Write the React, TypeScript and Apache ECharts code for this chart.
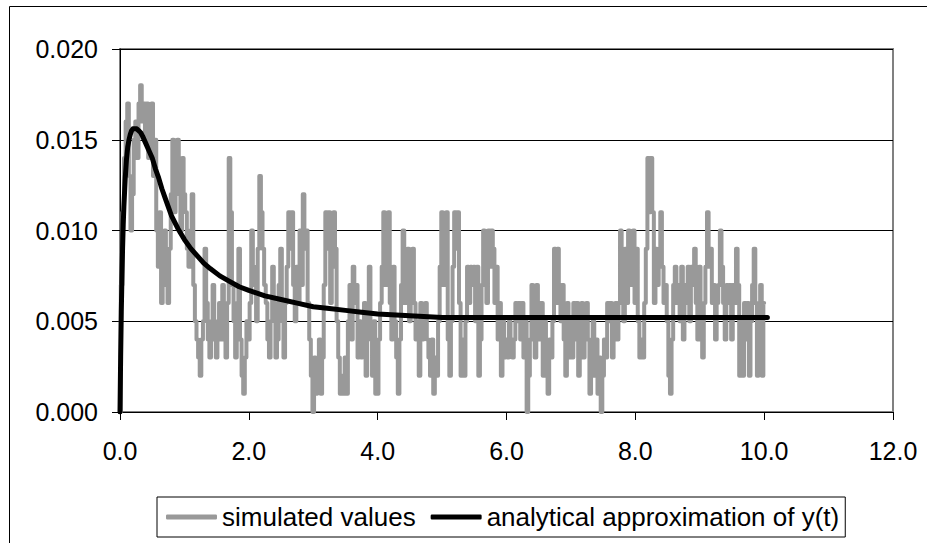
import React, { useEffect, useRef } from "react";
import * as echarts from "echarts";

// sampling step of the simulated series (time units)
const simStep = 0.025;
// simulated values
const simValues = [
  0.000, 0.007, 0.011, 0.014, 0.016, 0.017, 0.013, 0.010, 0.012, 0.015,
  0.016, 0.014, 0.017, 0.018, 0.016, 0.017, 0.015, 0.017, 0.014, 0.016,
  0.017, 0.013, 0.015, 0.010, 0.008, 0.011, 0.006, 0.008, 0.010, 0.007,
  0.006, 0.009, 0.012, 0.015, 0.011, 0.013, 0.015, 0.012, 0.010, 0.014,
  0.012, 0.011, 0.009, 0.008, 0.010, 0.012, 0.007, 0.005, 0.004, 0.003,
  0.002, 0.004, 0.005, 0.009, 0.006, 0.004, 0.003, 0.005, 0.007, 0.004,
  0.003, 0.005, 0.006, 0.004, 0.007, 0.005, 0.003, 0.006, 0.014, 0.011,
  0.007, 0.005, 0.003, 0.006, 0.009, 0.004, 0.002, 0.001, 0.003, 0.005,
  0.004, 0.006, 0.010, 0.008, 0.007, 0.005, 0.009, 0.013, 0.011, 0.009,
  0.007, 0.006, 0.004, 0.003, 0.005, 0.008, 0.006, 0.003, 0.004, 0.007,
  0.009, 0.005, 0.003, 0.006, 0.008, 0.011, 0.009, 0.011, 0.007, 0.005,
  0.008, 0.006, 0.010, 0.007, 0.012, 0.009, 0.010, 0.006, 0.004, 0.002,
  0.000, 0.003, 0.001, 0.002, 0.004, 0.001, 0.003, 0.007, 0.011, 0.009,
  0.011, 0.006, 0.008, 0.011, 0.009, 0.005, 0.003, 0.001, 0.002, 0.001,
  0.003, 0.001, 0.005, 0.007, 0.004, 0.008, 0.006, 0.007, 0.003, 0.005,
  0.003, 0.004, 0.006, 0.002, 0.005, 0.008, 0.004, 0.002, 0.005, 0.001,
  0.001, 0.004, 0.006, 0.008, 0.011, 0.007, 0.009, 0.011, 0.006, 0.004,
  0.008, 0.005, 0.003, 0.001, 0.004, 0.007, 0.010, 0.006, 0.008, 0.009,
  0.005, 0.007, 0.009, 0.006, 0.004, 0.005, 0.002, 0.006, 0.004, 0.005,
  0.006, 0.004, 0.003, 0.002, 0.004, 0.001, 0.003, 0.002, 0.005, 0.008,
  0.011, 0.007, 0.009, 0.011, 0.004, 0.002, 0.005, 0.008, 0.011, 0.009,
  0.011, 0.006, 0.002, 0.004, 0.002, 0.005, 0.008, 0.006, 0.008, 0.007,
  0.008, 0.005, 0.008, 0.002, 0.004, 0.007, 0.010, 0.009, 0.006, 0.010,
  0.008, 0.010, 0.009, 0.006, 0.008, 0.004, 0.006, 0.002, 0.005, 0.003,
  0.004, 0.003, 0.005, 0.004, 0.003, 0.004, 0.006, 0.005, 0.006, 0.004,
  0.006, 0.003, 0.005, 0.000, 0.002, 0.004, 0.007, 0.005, 0.003, 0.007,
  0.006, 0.004, 0.006, 0.002, 0.005, 0.003, 0.001, 0.004, 0.003, 0.005,
  0.009, 0.006, 0.009, 0.007, 0.005, 0.007, 0.004, 0.002, 0.006, 0.003,
  0.005, 0.003, 0.006, 0.004, 0.006, 0.002, 0.005, 0.006, 0.003, 0.005,
  0.006, 0.004, 0.001, 0.003, 0.005, 0.002, 0.004, 0.001, 0.003, 0.000,
  0.002, 0.004, 0.003, 0.006, 0.005, 0.006, 0.003, 0.005, 0.006, 0.004,
  0.006, 0.010, 0.007, 0.005, 0.009, 0.006, 0.010, 0.007, 0.009, 0.010,
  0.006, 0.009, 0.005, 0.003, 0.004, 0.003, 0.006, 0.009, 0.014, 0.011,
  0.014, 0.011, 0.006, 0.009, 0.007, 0.009, 0.011, 0.008, 0.006, 0.007,
  0.005, 0.002, 0.001, 0.004, 0.007, 0.008, 0.006, 0.007, 0.005, 0.008,
  0.004, 0.007, 0.006, 0.008, 0.005, 0.008, 0.007, 0.009, 0.006, 0.004,
  0.008, 0.004, 0.003, 0.006, 0.008, 0.011, 0.008, 0.009, 0.006, 0.007,
  0.004, 0.006, 0.007, 0.010, 0.008, 0.006, 0.004, 0.007, 0.006, 0.007,
  0.004, 0.007, 0.006, 0.009, 0.007, 0.002, 0.005, 0.002, 0.006, 0.004,
  0.006, 0.002, 0.005, 0.007, 0.009, 0.006, 0.002, 0.005, 0.007, 0.002,
  0.006,
];

// analytical approximation of y(t)
const approxT = [
  0, 0.01, 0.02, 0.03, 0.04, 0.05, 0.06, 0.08, 0.1, 0.12, 0.14, 0.16, 0.18,
  0.2, 0.23, 0.26, 0.29, 0.32, 0.35, 0.4, 0.45, 0.5, 0.55, 0.6, 0.65, 0.7,
  0.75, 0.8, 0.9, 1.0, 1.1, 1.2, 1.3, 1.4, 1.55, 1.7, 1.85, 2.0, 2.25, 2.5,
  2.75, 3.0, 3.25, 3.5, 3.75, 4.0, 4.5, 5.0, 6.0, 7.0, 8.0, 9.0, 10.05,
];
const approxY = [
  0, 0.003, 0.0055, 0.0074, 0.009, 0.0103, 0.0113, 0.0128, 0.0139, 0.0146,
  0.015, 0.0153, 0.0155, 0.0156, 0.0156, 0.0156, 0.0155, 0.0154, 0.0152,
  0.0148, 0.0144, 0.014, 0.0134, 0.0129, 0.0123, 0.0118, 0.0113, 0.0108,
  0.0101, 0.0095, 0.009, 0.0086, 0.0082, 0.0079, 0.0075, 0.0072, 0.0069,
  0.0067, 0.0064, 0.0062, 0.006, 0.0058, 0.0057, 0.0056, 0.0055, 0.0054,
  0.0053, 0.0052, 0.0052, 0.0052, 0.0052, 0.0052, 0.0052,
];

const seriesNames = ["simulated values", "analytical approximation of y(t)"];
const xTicks = { min: 0, max: 12, interval: 2 };
const yTicks = { min: 0, max: 0.02, interval: 0.005 };

const FONT = "'Liberation Sans', Arial, Helvetica, sans-serif";

export default function App() {
  const ref = useRef<HTMLDivElement>(null);

  useEffect(() => {
    document.body.style.margin = "0";
    if (!ref.current) return;
    const chart = echarts.init(ref.current, undefined, { renderer: "svg" });

    const simData = simValues.map((v, i) => [i * simStep, v]);
    const approxData = approxT.map((t, i) => [t, approxY[i]]);

    chart.setOption({
      animation: false,
      backgroundColor: "#ffffff",
      textStyle: { fontFamily: FONT },
      grid: {
        left: 120,
        top: 49,
        right: 34,
        bottom: 131,
        show: true,
        borderColor: "#808080",
        borderWidth: 2,
        backgroundColor: "transparent",
        outerBoundsMode: "none",
      },
      xAxis: {
        type: "value",
        min: xTicks.min,
        max: xTicks.max,
        interval: xTicks.interval,
        axisLine: { show: true, onZero: false, lineStyle: { color: "#000", width: 1 } },
        axisTick: { show: true, inside: false, length: 8, lineStyle: { color: "#000" } },
        axisLabel: {
          margin: 26,
          fontSize: 25,
          color: "#000",
          fontFamily: FONT,
          formatter: (v: number) => v.toFixed(1),
        },
        splitLine: { show: false },
      },
      yAxis: {
        type: "value",
        min: yTicks.min,
        max: yTicks.max,
        interval: yTicks.interval,
        axisLine: { show: true, onZero: false, lineStyle: { color: "#000", width: 1 } },
        axisTick: { show: true, inside: false, length: 8, lineStyle: { color: "#000" } },
        axisLabel: {
          margin: 22,
          fontSize: 25,
          color: "#000",
          fontFamily: FONT,
          formatter: (v: number) => v.toFixed(3),
        },
        splitLine: { show: true, lineStyle: { color: "#000", width: 1 } },
      },
      legend: {
        data: seriesNames,
        left: 157,
        top: 497,
        orient: "horizontal",
        padding: [7, 6, 7, 9],
        borderColor: "#000",
        borderWidth: 1,
        itemGap: 15,
        itemWidth: 51,
        itemHeight: 5,
        icon: "roundRect",
        textStyle: { fontSize: 26, color: "#000", fontFamily: FONT },
      },
      graphic: [
        {
          type: "rect",
          silent: true,
          shape: { x: 9.5, y: 6.5, width: 2000, height: 2000 },
          style: { fill: "none", stroke: "#000", lineWidth: 1 },
        },
      ],
      series: [
        {
          name: seriesNames[0],
          type: "line",
          data: simData,
          step: "middle",
          showSymbol: false,
          symbol: "none",
          color: "#999999",
          lineStyle: { color: "#999999", width: 4, cap: "round", join: "round" },
          z: 2,
        },
        {
          name: seriesNames[1],
          type: "line",
          data: approxData,
          showSymbol: false,
          symbol: "none",
          smooth: false,
          color: "#000000",
          lineStyle: { color: "#000000", width: 5, cap: "round", join: "round" },
          z: 3,
        },
      ],
    });

    return () => chart.dispose();
  }, []);

  return <div ref={ref} style={{ width: 927, height: 543 }} />;
}
